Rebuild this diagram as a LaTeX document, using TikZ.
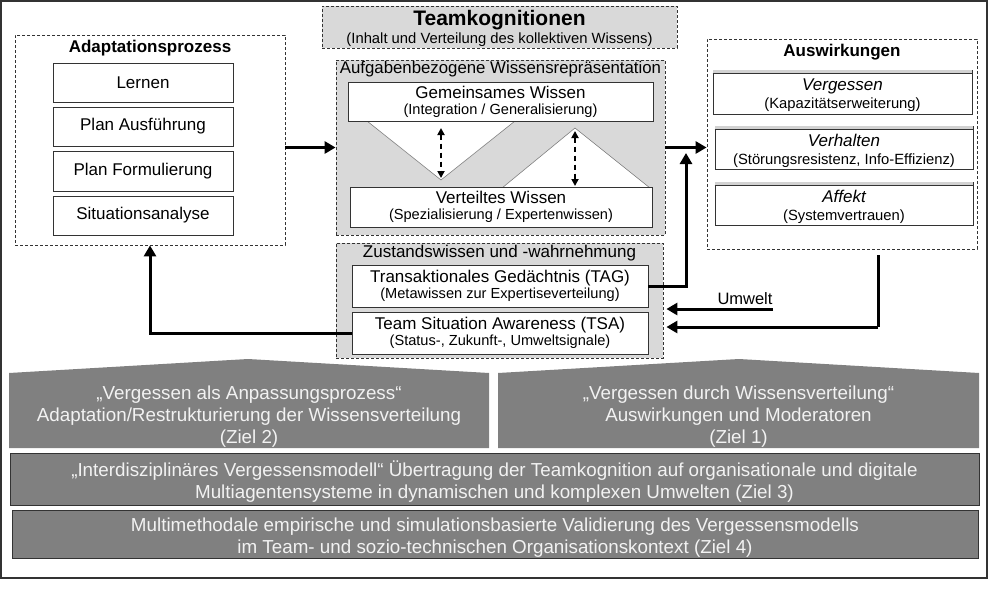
\documentclass[tikz,border=0pt]{standalone}
\usepackage{fontspec}
\setmainfont{Liberation Sans}
\usetikzlibrary{arrows.meta,calc}
\definecolor{lg}{HTML}{D9D9D9}
\definecolor{mg}{HTML}{808080}
\definecolor{ln}{HTML}{333333}
\definecolor{wt}{HTML}{F2F2F2}
\newcommand\fsz[2]{\fontsize{#1pt}{#2pt}\selectfont}
\tikzset{
  dbox/.style={draw=ln, dash pattern=on 3pt off 2pt, line width=0.8pt, inner sep=0pt},
  wbox/.style={draw=ln, fill=white, line width=0.8pt, inner sep=0pt, align=center, font=\fsz{17}{16}},
  ttl/.style={anchor=base, inner sep=0pt},
  txt/.style={inner sep=0pt, align=center},
  arr/.style={line width=3pt, -{Triangle[length=11pt,width=12pt]}},
  darr/.style={line width=1.8pt, dash pattern=on 5pt off 4pt, {Triangle[length=7pt,width=7pt]}-{Triangle[length=7pt,width=7pt]}},
  tri/.style={fill=white, draw=gray, line width=0.6pt},
  gbar/.style={fill=mg, inner sep=0pt},
  gtxt/.style={text=wt, align=center, inner sep=0pt, font=\fsz{18.8}{22}},
  sbox/.style={draw=ln, fill=white, line width=0.8pt, inner sep=0pt}
}
\begin{document}
\begin{tikzpicture}[x=1pt,y=-1pt]
\useasboundingbox (0,0) rectangle (989,600);
\draw[ln, line width=1.5pt] (1,1) rectangle (987,578);

% Teamkognitionen
\node[dbox, fill=lg, minimum width=355pt, minimum height=42pt] (team) at (499.5,27) {};
\node[ttl, font=\fsz{21}{21}\bfseries] (teamt) at (499.5,25.5) {Teamkognitionen};
\node[ttl, font=\fsz{14.8}{16}] (teams) at (499.5,43.5) {(Inhalt und Verteilung des kollektiven Wissens)};

% Aufgabenbezogene Wissensrepraesentation
\node[dbox, fill=lg, minimum width=329pt, minimum height=175pt] (aufg) at (500.5,147.5) {};
\node[ttl, font=\fsz{16.8}{17}] (aufgt) at (500.5,73.5) {Aufgabenbezogene Wissensrepräsentation};
\fill[tri] (367,121) -- (515,121) -- (441,180) -- cycle;
\fill[tri] (502,188) -- (650,188) -- (575,128) -- cycle;
\node[wbox, minimum width=305pt, minimum height=39pt] (gem) at (500.5,101.5)
  {{\fsz{17}{16}Gemeinsames Wissen}\\{\fsz{14.6}{16}(Integration / Generalisierung)}};
\node[wbox, minimum width=302pt, minimum height=40pt] (vert) at (501,207)
  {{\fsz{17}{16}Verteiltes Wissen}\\{\fsz{14.6}{16}(Spezialisierung / Expertenwissen)}};
\coordinate (d1a) at (441,128);
\coordinate (d1b) at (441,178);
\coordinate (d2a) at (575,131);
\coordinate (d2b) at (575,186);
\draw[darr] (d1a) -- (d1b);
\draw[darr] (d2a) -- (d2b);

% Zustandswissen
\node[dbox, fill=lg, minimum width=327pt, minimum height=115pt] (zust) at (499.5,300.5) {};
\node[ttl, font=\fsz{17}{17}] (zustt) at (499.5,257.5) {Zustandswissen und -wahrnehmung};
\node[wbox, minimum width=296pt, minimum height=42pt] (tag) at (500,286)
  {{\fsz{17}{16}Transaktionales Gedächtnis (TAG)}\\{\fsz{14.6}{16}(Metawissen zur Expertiseverteilung)}};
\node[wbox, minimum width=296pt, minimum height=42pt] (tsa) at (500,333)
  {{\fsz{17}{16}Team Situation Awareness (TSA)}\\{\fsz{14.6}{16}(Status-, Zukunft-, Umweltsignale)}};

% Adaptationsprozess
\node[dbox, minimum width=270pt, minimum height=210pt] (adapt) at (150,140) {};
\node[ttl, font=\fsz{17}{17}\bfseries] (adaptt) at (150,52.5) {Adaptationsprozess};
\node[wbox, minimum width=180pt, minimum height=39pt] (lern) at (143,82.5) {Lernen};
\node[wbox, minimum width=180pt, minimum height=39pt] (plana) at (143,126.5) {Plan Ausführung};
\node[wbox, minimum width=180pt, minimum height=40pt] (planf) at (143,171) {Plan Formulierung};
\node[wbox, minimum width=180pt, minimum height=39pt] (sit) at (143,215.5) {Situationsanalyse};

% Auswirkungen
\node[dbox, minimum width=270pt, minimum height=210pt] (ausw) at (842,144) {};
\node[ttl, font=\fsz{17}{17}\bfseries] (auswt) at (842,56) {Auswirkungen};
\node[sbox, minimum width=259pt, minimum height=44pt] (verg) at (842.5,92) {};
\node[sbox, minimum width=258pt, minimum height=43pt] (verh) at (844,147.5) {};
\node[sbox, minimum width=258pt, minimum height=43pt] (aff) at (844,203.5) {};
\foreach \b in {verg,verh,aff}{
  \fill[gray!35] ([shift={(0.8pt,-0.8pt)}]\b.north west) rectangle ([shift={(-0.8pt,-3.2pt)}]\b.north east);
  \draw[ln, line width=0.5pt] ([yshift=-3.5pt]\b.north west) -- ([yshift=-3.5pt]\b.north east);
}
\node[ttl, font=\fsz{17}{17}\itshape] (vergt) at (842.5,90) {Vergessen};
\node[ttl, font=\fsz{14.8}{16}] (vergs) at (842.5,108) {(Kapazitätserweiterung)};
\node[ttl, font=\fsz{17}{17}\itshape] (verht) at (844,146) {Verhalten};
\node[ttl, font=\fsz{14.8}{16}] (verhs) at (844,164) {(Störungsresistenz, Info-Effizienz)};
\node[ttl, font=\fsz{17}{17}\itshape] (afft) at (844,202) {Affekt};
\node[ttl, font=\fsz{14.8}{16}] (affs) at (844,220) {(Systemvertrauen)};

% connectors
\draw[arr] (adapt.east |- aufg.west) -- (aufg.west);
\draw[arr] (aufg.east) -- (ausw.west |- aufg.east);
\coordinate (tagup) at (686,153);
\draw[arr] (tag.east) -| (tagup);
\draw[arr] (tsa.west) -| (adapt.south);
\coordinate (umw) at (773,309);
\draw[arr] (umw) -- ([xshift=3pt]zust.east |- umw);
\node[anchor=base, inner sep=0pt, font=\fsz{16.5}{17}] (umwl) at (745,304) {Umwelt};
\coordinate (ausd) at (878,255);
\coordinate (ausl) at (878,327);
\draw[line width=3pt] (ausd) -- (ausl);
\draw[arr] (ausl) -- ([xshift=3pt]zust.east |- ausl);

% bottom goals
\path[gbar] (9,373) -- (248,359) -- (489,373) -- (489,448) -- (9,448) -- cycle;
\node[gtxt] (ziel2) at (249,416.5)
  {„Vergessen als Anpassungsprozess“\\Adaptation/Restrukturierung der Wissensverteilung\\(Ziel 2)};
\path[gbar] (498,373) -- (739,359) -- (979,373) -- (979,448) -- (498,448) -- cycle;
\node[gtxt] (ziel1) at (738.5,416.5)
  {„Vergessen durch Wissensverteilung“\\Auswirkungen und Moderatoren\\(Ziel 1)};
\node[gbar, draw=ln, line width=1pt, minimum width=969pt, minimum height=52pt] (ziel3) at (494.5,479) {};
\node[gtxt] (ziel3t) at (494.5,482)
  {„Interdisziplinäres Vergessensmodell“ Übertragung der Teamkognition auf organisationale und digitale\\Multiagentensysteme in dynamischen und komplexen Umwelten (Ziel 3)};
\node[gbar, draw=ln, line width=1pt, minimum width=966pt, minimum height=48pt] (ziel4) at (495,534) {};
\node[gtxt] (ziel4t) at (495,537.5)
  {Multimethodale empirische und simulationsbasierte Validierung des Vergessensmodells\\im Team- und sozio-technischen Organisationskontext (Ziel 4)};
\end{tikzpicture}
\end{document}
